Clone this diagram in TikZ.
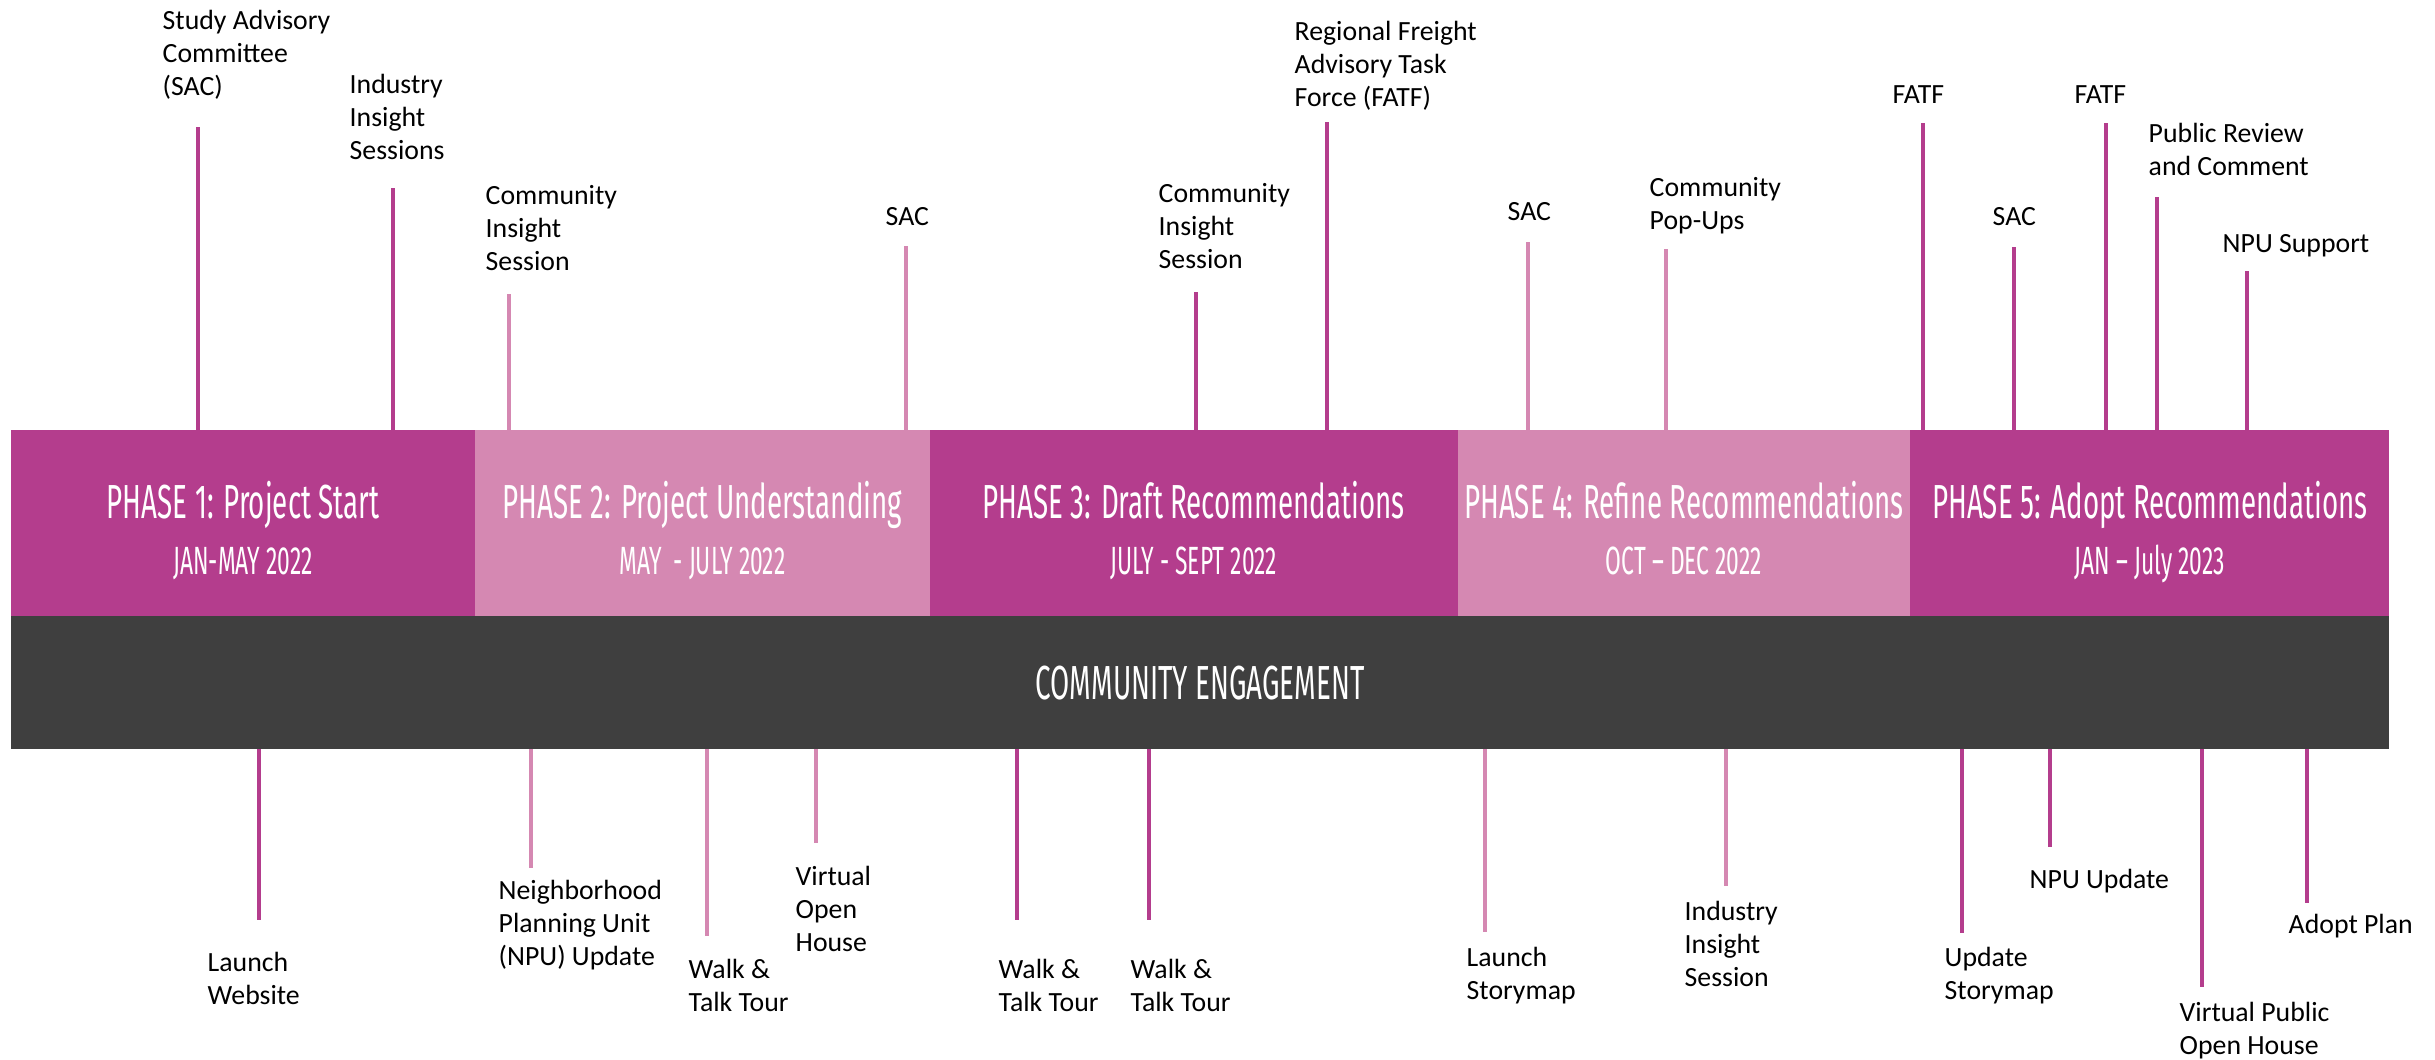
\documentclass[tikz,border=0pt]{standalone}
\usepackage{fontspec}
\usepackage{tikz}
\usetikzlibrary{positioning}
\usepackage{xcolor}
\definecolor{magdark}{RGB}{180,61,141}
\definecolor{magpale}{RGB}{213,136,178}
\definecolor{engagegrey}{RGB}{63,63,63}
\newfontfamily\evtfont{Carlito}
\newfontfamily\phasefont[FakeStretch=0.58]{Fira Sans}

\begin{document}
\begin{tikzpicture}[x=0.01cm,y=-0.01cm,
	phase/.style={rectangle,minimum height=1.86cm,inner sep=0pt,outer sep=0pt},
	phasetitle/.style={font=\phasefont\fontsize{13.6}{16}\selectfont,text=white,text height=0.33cm,text depth=0pt,inner sep=0pt},
	phasedate/.style={font=\phasefont\fontsize{11.2}{13}\selectfont,text=white,text height=0.27cm,text depth=0pt,inner sep=0pt},
	engage/.style={rectangle,fill=engagegrey,minimum width=23.77cm,minimum height=1.33cm,inner sep=0pt,outer sep=0pt,
		font=\phasefont\fontsize{13.6}{16}\selectfont,text=white,text height=0.33cm,text depth=0pt},
	tick/.style={line width=1.15pt},
	evt/.style={font=\evtfont\fontsize{7.9}{9.4}\selectfont,align=left,inner sep=0pt,anchor=north west}]
	\useasboundingbox (0,0) rectangle (2435,1059);

	% phases
	\node[phase,fill=magdark,minimum width=4.64cm,anchor=north west] (p1) at (11,430) {};
	\node[phase,fill=magpale,minimum width=4.54cm,right=0pt of p1] (p2) {};
	\node[phase,fill=magdark,minimum width=5.28cm,right=0pt of p2] (p3) {};
	\node[phase,fill=magpale,minimum width=4.52cm,right=0pt of p3] (p4) {};
	\node[phase,fill=magdark,minimum width=4.79cm,right=0pt of p4] (p5) {};
	\node[engage,anchor=north west] (ce) at (p1.south west) {COMMUNITY ENGAGEMENT};

	\node[phasetitle] (p1t) at ([yshift=0.215cm]p1.center) {PHASE 1: Project Start};
	\node[phasedate] (p1d) at ([yshift=-0.38cm]p1.center) {JAN-MAY 2022};
	\node[phasetitle] (p2t) at ([yshift=0.215cm]p2.center) {PHASE 2: Project Understanding};
	\node[phasedate] (p2d) at ([yshift=-0.38cm]p2.center) {MAY \ - JULY 2022};
	\node[phasetitle] (p3t) at ([yshift=0.215cm]p3.center) {PHASE 3: Draft Recommendations};
	\node[phasedate] (p3d) at ([yshift=-0.38cm]p3.center) {JULY - SEPT 2022};
	\node[phasetitle] (p4t) at ([yshift=0.215cm]p4.center) {PHASE 4: Refine Recommendations};
	\node[phasedate] (p4d) at ([yshift=-0.38cm]p4.center) {OCT – DEC 2022};
	\node[phasetitle] (p5t) at ([yshift=0.215cm]p5.center) {PHASE 5: Adopt Recommendations};
	\node[phasedate] (p5d) at ([yshift=-0.38cm]p5.center) {JAN – July 2023};

	% events above the phases
	\foreach \nm/\px/\py/\col/\lx/\ly/\txt in {
		sacA/198/127/magdark/162/9/{Study Advisory\\Committee\\(SAC)},
		iisA/393/188/magdark/349/73/{Industry\\Insight\\Sessions},
		cisA/509/294/magpale/485/185/{Community\\Insight\\Session},
		sacB/906/246/magpale/885/207/{SAC},
		cisB/1196/292/magdark/1158/183/{Community\\Insight\\Session},
		fatfA/1327/122/magdark/1294/20/{Regional Freight\\Advisory Task\\Force (FATF)},
		sacC/1528/242/magpale/1507/202/{SAC},
		popups/1666/249/magpale/1649/177/{Community\\Pop-Ups},
		fatfB/1923/123/magdark/1892/85/{FATF},
		sacD/2014/247/magdark/1992/207/{SAC},
		fatfC/2106/123/magdark/2074/85/{FATF},
		review/2157/197/magdark/2148/122/{Public Review\\and Comment},
		npusup/2247/271/magdark/2222/234/{NPU Support}}{
		\coordinate (\nm) at (\px,\py);
		\draw[tick,draw=\col] (\nm) -- (\nm |- p1.north);
		\node[evt] (\nm-lbl) at (\lx,\ly) {\txt};
	}

	% events below the engagement band
	\foreach \nm/\px/\py/\col/\lx/\ly/\txt in {
		website/259/920/magdark/207/951/{Launch\\Website},
		npuA/531/868/magpale/498/879/{Neighborhood\\Planning Unit\\(NPU) Update},
		walkA/707/936/magpale/688/958/{Walk \&\\Talk Tour},
		vohA/816/843/magpale/795/865/{Virtual\\Open\\House},
		walkB/1017/920/magdark/998/958/{Walk \&\\Talk Tour},
		walkC/1149/920/magdark/1130/958/{Walk \&\\Talk Tour},
		storyA/1485/932/magpale/1466/946/{Launch\\Storymap},
		iisB/1726/886/magpale/1684/900/{Industry\\Insight\\Session},
		storyB/1962/933/magdark/1944/946/{Update\\Storymap},
		npuB/2050/847/magdark/2029/868/{NPU Update},
		vohB/2202/987/magdark/2179/1001/{Virtual Public\\Open House},
		adopt/2307/903/magdark/2288/913/{Adopt Plan}}{
		\coordinate (\nm) at (\px,\py);
		\draw[tick,draw=\col] (ce.south -| \nm) -- (\nm);
		\node[evt] (\nm-lbl) at (\lx,\ly) {\txt};
	}
\end{tikzpicture}
\end{document}
